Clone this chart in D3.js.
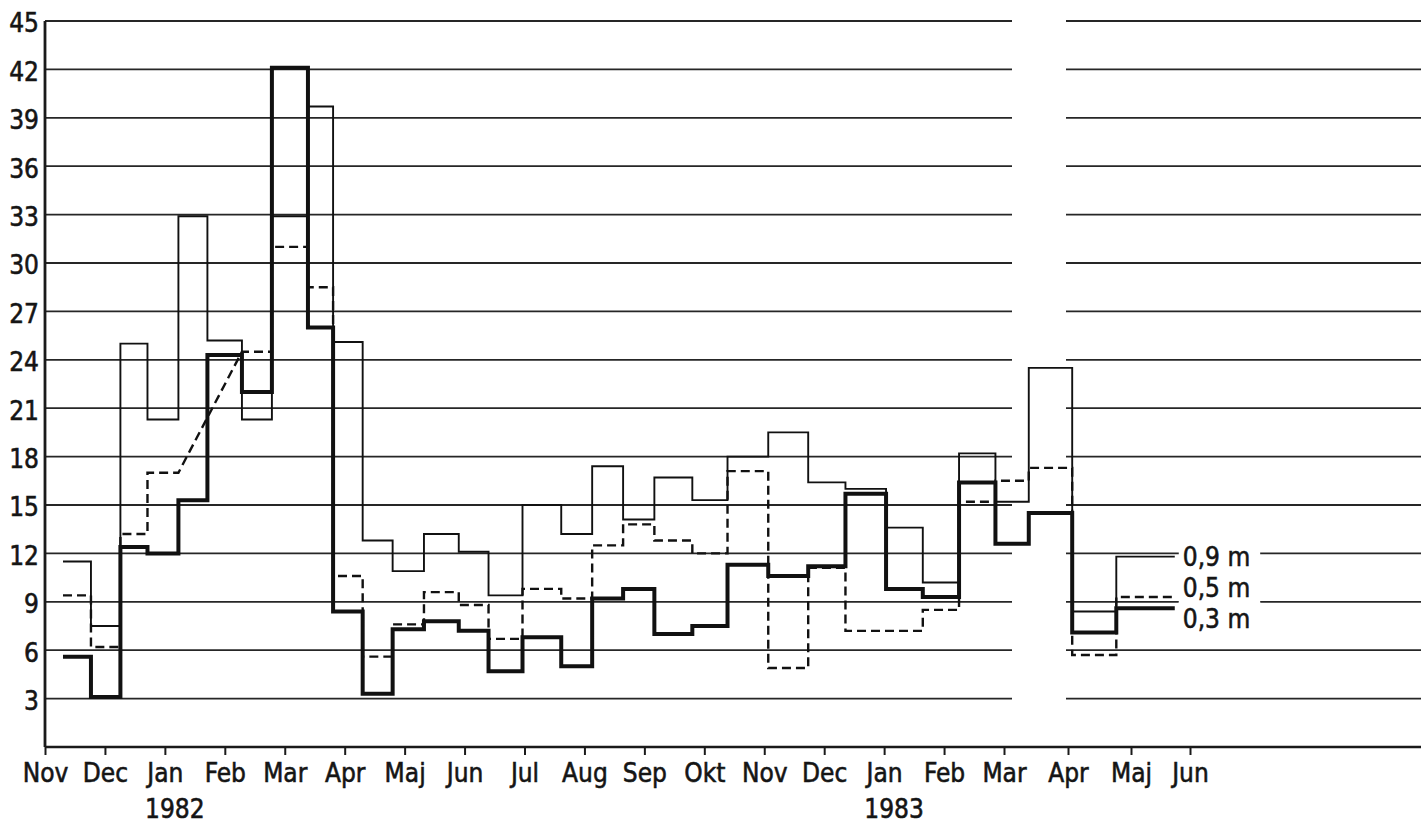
<!DOCTYPE html>
<html>
<head>
<meta charset="utf-8">
<script src="https://cdn.jsdelivr.net/npm/d3@7"></script>
<style>
  html, body { margin: 0; padding: 0; background: #fff; }
  svg { display: block; }
  text { font-family: "DejaVu Sans Condensed", "DejaVu Sans", sans-serif; font-stretch: condensed;
         fill: #151515; stroke: #151515; stroke-width: 0.55px; }
</style>
</head>
<body>
<svg id="chart" width="1421" height="824"></svg>
<script>
// Sampling period boundaries: each value below covers the span between two consecutive dates
const periodBounds = [
  "1981-11-10", "1981-11-24", "1981-12-09", "1981-12-23", "1982-01-08", "1982-01-23",
  "1982-02-09", "1982-02-23", "1982-03-13", "1982-03-26", "1982-04-10", "1982-04-25",
  "1982-05-11", "1982-05-29", "1982-06-13", "1982-06-30", "1982-07-20", "1982-08-05",
  "1982-08-21", "1982-09-06", "1982-09-25", "1982-10-13", "1982-11-03", "1982-11-23",
  "1982-12-12", "1983-01-02", "1983-01-21", "1983-02-08", "1983-02-25", "1983-03-13",
  "1983-04-03", "1983-04-24", "1983-05-24"
];

// Values per sampling period at three depths (null = no sample; bridged by a straight dash)
const depth09 = [11.5, 7.5, 25.0, 20.3, 32.9, 25.2, 20.3, 32.9, 39.7, 25.1, 12.8, 10.9,
                 13.2, 12.1, 9.4, 15.0, 13.2, 17.4, 14.1, 16.7, 15.3, 18.0, 19.5, 16.4,
                 16.0, 13.6, 10.2, 18.2, 15.2, 23.5, 8.4, 11.8];
const depth05 = [9.4, 6.2, 13.2, 17.0, null, null, 24.5, 31.0, 28.5, 10.6, 5.6, 7.6,
                 9.6, 8.8, 6.7, 9.8, 9.2, 12.5, 13.8, 12.8, 12.0, 17.1, 4.9, 11.1,
                 7.2, 7.2, 8.5, 15.2, 16.5, 17.3, 5.7, 9.3];
const depth03 = [5.6, 3.1, 12.4, 12.0, 15.3, 24.3, 22.0, 42.1, 26.0, 8.4, 3.3, 7.3,
                 7.8, 7.2, 4.7, 6.8, 5.0, 9.2, 9.8, 7.0, 7.5, 11.3, 10.6, 11.2,
                 15.7, 9.8, 9.3, 16.4, 12.6, 14.5, 7.1, 8.6];

const seriesLabels = ["0,9 m", "0,5 m", "0,3 m"];
const monthLabels = ["Nov", "Dec", "Jan", "Feb", "Mar", "Apr", "Maj", "Jun", "Jul", "Aug",
                     "Sep", "Okt", "Nov", "Dec", "Jan", "Feb", "Mar", "Apr", "Maj", "Jun"];
const yearLabels = ["1982", "1983"];
const yearMonthIndex = [2, 14];
const yTickValues = [3, 6, 9, 12, 15, 18, 21, 24, 27, 30, 33, 36, 39, 42, 45];

// ---- layout ----
const svg = d3.select("#chart");
const W = 1421;
const plotLeft = 45, plotBottom = 747, plotTop = 21;

// x runs in month units counted from 1 Nov 1981; the spring of 1983 is drawn a little wider
const x = d3.scaleLinear().domain([0, 16, 17, 18, 19]).range([45, 1004, 1068, 1131, 1190]);
const y = d3.scaleLinear().domain([0, 45]).range([plotBottom, plotTop]);

const parse = d3.timeParse("%Y-%m-%d");
const origin = new Date(1981, 10, 1);
function monthPos(d) {
  const m0 = d3.timeMonth.floor(d), m1 = d3.timeMonth.offset(m0, 1);
  return d3.timeMonth.count(origin, m0) + (d - m0) / (m1 - m0);
}
const boundPos = periodBounds.map(s => monthPos(parse(s)));

// ---- horizontal grid, interrupted where the sheet was pasted together ----
const gridBreak = [1012, 1066];
const grid = svg.append("g").attr("stroke", "#262626").attr("stroke-width", 1.8);
yTickValues.forEach(v => {
  grid.append("line").attr("x1", plotLeft).attr("x2", gridBreak[0]).attr("y1", y(v)).attr("y2", y(v));
  grid.append("line").attr("x1", gridBreak[1]).attr("x2", W).attr("y1", y(v)).attr("y2", y(v));
});

// ---- axes ----
const xAxis = d3.axisBottom(x)
  .tickValues(d3.range(0, monthLabels.length))
  .tickFormat(i => monthLabels[i])
  .tickSize(8).tickSizeOuter(0).tickPadding(9);
const gx = svg.append("g").attr("transform", `translate(0,${plotBottom})`).call(xAxis);
gx.attr("font-family", null).attr("font-size", null);
gx.select(".domain").remove();
gx.selectAll(".tick line").attr("stroke", "#1a1a1a").attr("stroke-width", 2);
gx.selectAll(".tick text").attr("font-size", 26).attr("fill", "#151515");
svg.append("line").attr("x1", plotLeft).attr("x2", W).attr("y1", plotBottom).attr("y2", plotBottom)
  .attr("stroke", "#1a1a1a").attr("stroke-width", 2.6);

const yAxis = d3.axisLeft(y).tickValues(yTickValues).tickSize(0).tickSizeOuter(0).tickPadding(6);
const gy = svg.append("g").attr("transform", `translate(${plotLeft},0)`).call(yAxis);
gy.attr("font-family", null).attr("font-size", null);
gy.select(".domain").remove();
gy.selectAll(".tick text").attr("font-size", 26).attr("fill", "#151515").attr("dy", "0.42em");
svg.append("line").attr("x1", plotLeft).attr("x2", plotLeft).attr("y1", plotTop).attr("y2", plotBottom)
  .attr("stroke", "#1a1a1a").attr("stroke-width", 2.8);

svg.append("g").selectAll("text").data(yearLabels).join("text")
  .attr("x", (d, i) => x(yearMonthIndex[i]) + 10)
  .attr("y", 818)
  .attr("text-anchor", "middle")
  .attr("font-size", 26)
  .text(d => d);

// ---- step series ----
function stepPoints(values) {
  const pts = [];
  values.forEach((v, i) => {
    if (v == null) return;
    pts.push([x(boundPos[i]), y(v)], [x(boundPos[i + 1]), y(v)]);
  });
  return pts;
}
const line = d3.line();
const series = [
  { values: depth09, width: 1.9, dash: null },
  { values: depth05, width: 2.4, dash: "9,5" },
  { values: depth03, width: 4, dash: null }
];
svg.append("g").selectAll("path").data(series).join("path")
  .attr("d", s => line(stepPoints(s.values)))
  .attr("fill", "none")
  .attr("stroke", "#111")
  .attr("stroke-width", s => s.width)
  .attr("stroke-dasharray", s => s.dash)
  .attr("stroke-linejoin", "miter")
  .attr("stroke-linecap", "butt");

// ---- end labels, spread apart so they do not collide ----
const lastX = x(boundPos[boundPos.length - 1]);
const labelY = series.map(s => y(s.values[s.values.length - 1]));
const gap = 31;
for (let it = 0; it < 50; it++) {
  const order = d3.range(labelY.length).sort((a, b) => labelY[a] - labelY[b]);
  for (let k = 1; k < order.length; k++) {
    const a = order[k - 1], b = order[k];
    const overlap = gap - (labelY[b] - labelY[a]);
    if (overlap > 0) { labelY[a] -= overlap / 2; labelY[b] += overlap / 2; }
  }
}
const lab = svg.append("g");
seriesLabels.forEach((t, i) => {
  const g = lab.append("g");
  const txt = g.append("text")
    .attr("x", lastX + 8).attr("y", labelY[i]).attr("dy", "0.38em")
    .attr("font-size", 26).text(t);
  const bb = txt.node().getBBox();
  g.insert("rect", "text")
    .attr("x", bb.x - 4).attr("y", bb.y - 2)
    .attr("width", bb.width + 14).attr("height", bb.height + 4)
    .attr("fill", "#fff").attr("stroke", "none");
});
</script>
</body>
</html>
